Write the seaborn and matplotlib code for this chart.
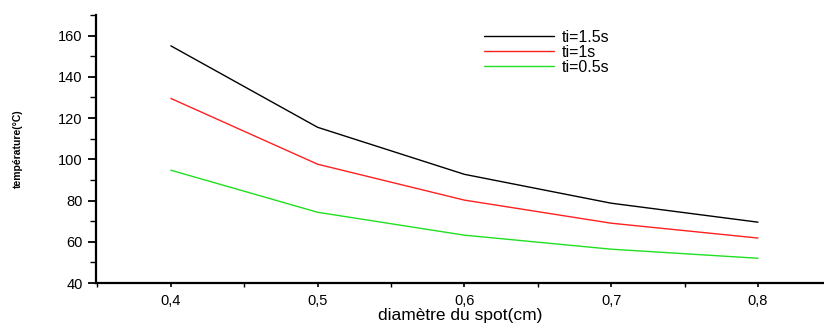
import pandas as pd
import matplotlib
matplotlib.use("Agg")
import matplotlib.pyplot as plt
import seaborn as sns
from matplotlib.ticker import MultipleLocator, FuncFormatter

# diameter of the spot (cm) and temperature for each time
diametre = [0.4, 0.5, 0.6, 0.7, 0.8]
temp_15 = [155, 115.5, 92.7, 78.7, 69.5]
temp_1 = [129.5, 97.6, 80.2, 69, 61.8]
temp_05 = [94.7, 74.3, 63.2, 56.4, 52]
series_names = ["ti=1.5s", "ti=1s", "ti=0.5s"]
colors = ["black", "#ff2020", "#20e020"]

rows = []
for name, vals in zip(series_names, [temp_15, temp_1, temp_05]):
    for d, t in zip(diametre, vals):
        rows.append({"d": d, "T": t, "serie": name})
df = pd.DataFrame(rows)

sns.set_style("ticks", {"axes.edgecolor": "black", "xtick.color": "black",
                        "ytick.color": "black", "text.color": "black",
                        "axes.labelcolor": "black"})
plt.rcParams["font.family"] = ["Liberation Sans", "DejaVu Sans"]

fig = plt.figure(figsize=(8.24, 3.24), dpi=100)
ax = fig.add_axes([0.1165, 0.1265, 0.8835, 0.8275])

sns.lineplot(data=df, x="d", y="T", hue="serie", hue_order=series_names,
             palette=colors, linewidth=1, ax=ax)

ax.set_xlim(0.349, 0.845)
ax.set_ylim(40, 170)
ax.xaxis.set_major_locator(MultipleLocator(0.1))
ax.xaxis.set_minor_locator(MultipleLocator(0.05))
ax.yaxis.set_major_locator(MultipleLocator(20))
ax.yaxis.set_minor_locator(MultipleLocator(10))
ax.xaxis.set_major_formatter(FuncFormatter(lambda v, p: f"{v:.1f}".replace(".", ",")))
ax.tick_params(axis="y", which="major", length=6, width=1.3, labelsize=10.5, direction="out")
ax.tick_params(axis="y", which="minor", length=4, width=1.0, direction="out")
ax.tick_params(axis="x", which="major", length=3, width=1.2, labelsize=10.5, direction="out", pad=5)
ax.tick_params(axis="x", which="minor", length=3, width=1.0, direction="out")

ax.spines["top"].set_visible(False)
ax.spines["right"].set_visible(False)
ax.spines["left"].set_linewidth(1.6)
ax.spines["bottom"].set_linewidth(1.6)

ax.set_xlabel("diamètre du spot(cm)", fontsize=12.5)
ax.xaxis.set_label_coords(0.5, -0.095)
ax.set_ylabel("température(°C)", fontsize=7.5, fontweight="bold")
ax.yaxis.set_label_coords(-0.100, 0.5)

leg = ax.legend(loc="upper left", bbox_to_anchor=(0.587, 0.908),
                bbox_transform=fig.transFigure, frameon=False,
                fontsize=11.5, handlelength=4.4, handletextpad=0.5,
                labelspacing=0.0, borderpad=0, borderaxespad=0)

fig.savefig("out.png", dpi=100)
